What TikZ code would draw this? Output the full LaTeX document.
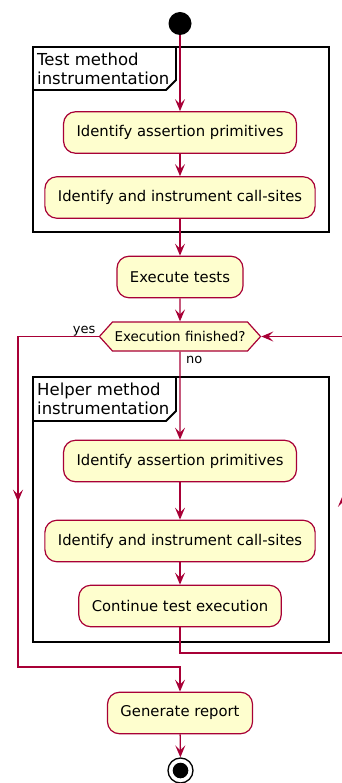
\documentclass[tikz,border=0pt]{standalone}
\usepackage{fontspec}
\setmainfont{DejaVu Sans}
\usepackage{tikz}
\usetikzlibrary{positioning, calc, shapes.symbols, arrows.meta, decorations.markings}
\definecolor{umlred}{HTML}{A80036}
\definecolor{umlfill}{HTML}{FEFECE}
\tikzstyle{Arrow} = [
    line width = 1.4pt,
    color = umlred,
    -{Stealth[length=12pt, width=10pt, inset=5pt]}
]
\tikzstyle{Line} = [
    line width = 1.4pt,
    color = umlred
]
\tikzstyle{MidArrow} = [
    decoration={
        markings,
        mark=at position 0.5 with {
            \arrow{Stealth[length=12pt, width=10pt, inset=5pt]}
        }
    },
    postaction = decorate
]

\begin{document}
\begin{tikzpicture}[
x = 1pt, y = -1pt,
act/.style = {
    rectangle,
    rounded corners = 12pt,
    draw = umlred,
    line width = 1.2pt,
    fill = umlfill,
    minimum height = 41.5pt,
    inner xsep = 13pt,
    font = \fontsize{14.8}{17}\selectfont
    },
test/.style = {
    signal,
    signal to = east and west,
    signal pointer angle = 96,
    draw = umlred,
    line width = 1.2pt,
    fill = umlfill,
    minimum height = 29pt,
    inner xsep = 2pt,
    font = \fontsize{13.5}{16}\selectfont
    },
frame/.style = {
    draw = black,
    line width = 1.8pt
    },
tab/.style = {
    anchor = north west,
    inner sep = 0pt,
    align = left,
    font = \fontsize{16.5}{19}\selectfont
    },
lbl/.style = {
    inner sep = 0pt,
    font = \fontsize{13}{15}\selectfont
    }
]

\useasboundingbox (0,0) rectangle (341,783);

% frames
\draw[frame] (33,47) rectangle (329,232);
\draw[frame] (33,90) -- (166,90) -- (176,80) -- (176,47);
\node[tab] (tab1) at (37,53) {Test method\\instrumentation};

\draw[frame] (33,377) rectangle (329,642);
\draw[frame] (33,421) -- (166,421) -- (176,411) -- (176,377);
\node[tab] (tab2) at (37,383) {Helper method\\instrumentation};

% nodes
\node[circle, fill = black, minimum size = 23pt, inner sep = 0pt] (start) at (180,23.5) {};
\node[act] (a1) at (180,132.5) {Identify assertion primitives};
\node[act] (a2) at (180,197.5) {Identify and instrument call-sites};
\node[act] (exec) at (180,277) {Execute tests};
\node[test] (done) at (180,336.5) {Execution finished?};
\node[act] (h1) at (180,461) {Identify assertion primitives};
\node[act] (h2) at (180,541) {Identify and instrument call-sites};
\node[act] (cont) at (180,606) {Continue test execution};
\node[act] (report) at (180,713) {Generate report};
\node[circle, draw = black, line width = 1.3pt, fill = white, minimum size = 25pt, inner sep = 0pt] (stop) at (180.5,770.5) {};
\fill (stop.center) circle (7.8);

\node[lbl, anchor = base east] (yes) at ($(done.west) + (-3,-3.5)$) {yes};
\node[lbl, anchor = base west] (no) at ($(done.south) + (6,12)$) {no};

\coordinate (yl) at (18,336.5);
\coordinate (yb) at (18,667);
\coordinate (rb) at (343,653);
\coordinate (rt) at (343,336.5);

% connectors
\draw[Arrow] (start) -- (a1);
\draw[Arrow] (a1) -- (a2);
\draw[Arrow] (a2) -- (exec);
\draw[Arrow] (exec) -- (done);
\draw[Arrow] (done) -- (h1);
\draw[Arrow] (h1) -- (h2);
\draw[Arrow] (h2) -- (cont);
\draw[Arrow] (report) -- (stop);

\draw[Arrow] (cont.south) |- (rb) -- (rt) -- (done.east);
\draw[Line, MidArrow] (rb) -- (rt);
\draw[Arrow] (done.west) -- (yl) -- (yb) -| (report.north);
\draw[Line, MidArrow] (yl) -- (yb);

\end{tikzpicture}
\end{document}
